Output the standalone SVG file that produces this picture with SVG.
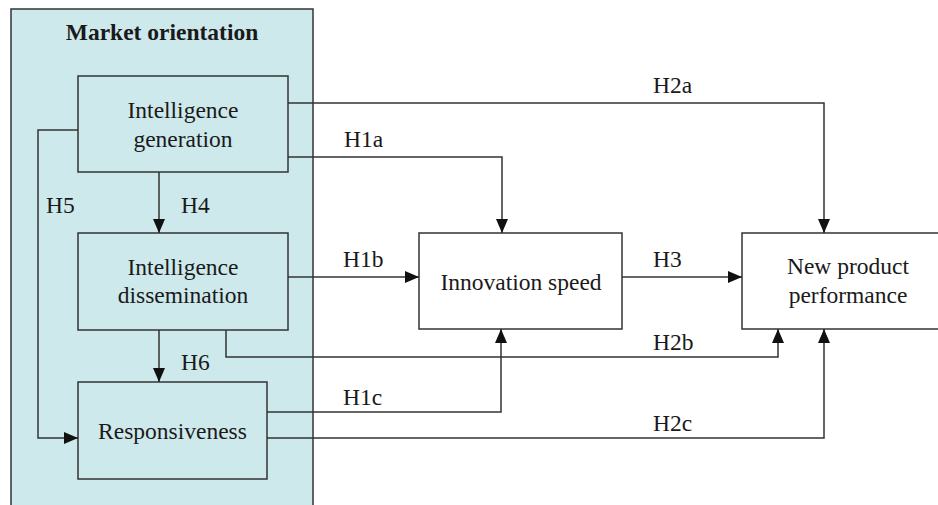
<svg xmlns="http://www.w3.org/2000/svg" width="938" height="505" viewBox="0 0 938 505">
<defs>
<style>
.box{fill:#cde9ec;stroke:#333;stroke-width:1.5}
.wbox{fill:#fff;stroke:#333;stroke-width:1.5}
.t{font-size:23.5px;fill:#1a1a1a;text-anchor:middle}
.lb{font-size:23.5px;fill:#1a1a1a}
.c{fill:none;stroke:#333;stroke-width:1.5}
</style>
<marker id="ah" viewBox="0 0 14 12" refX="14" refY="6" markerWidth="14" markerHeight="12" markerUnits="userSpaceOnUse" orient="auto">
<path d="M0,0 L14,6 L0,12 Z" fill="#111"/>
</marker>
</defs>
<rect width="938" height="505" fill="#fff"/>
<g font-family="'Liberation Serif', Tinos, 'Noto Serif', 'DejaVu Serif', serif">
<g id="market-orientation">
<rect x="11" y="9" width="302" height="510" class="box"/>
<text x="162" y="40" class="t" font-weight="bold">Market orientation</text>
</g>
<g id="intelligence-generation">
<rect x="78" y="76" width="210" height="96" class="box"/>
<text x="183" y="118" class="t">Intelligence</text>
<text x="183" y="147" class="t">generation</text>
</g>
<g id="intelligence-dissemination">
<rect x="78" y="233" width="210" height="97" class="box"/>
<text x="183" y="275" class="t">Intelligence</text>
<text x="183" y="303" class="t">dissemination</text>
</g>
<g id="responsiveness">
<rect x="78" y="382" width="189" height="97" class="box"/>
<text x="172.5" y="439" class="t">Responsiveness</text>
</g>
<g id="innovation-speed">
<rect x="419" y="233" width="203" height="96" class="wbox"/>
<text x="521" y="290" class="t">Innovation speed</text>
</g>
<g id="new-product-performance">
<rect x="742" y="233" width="212" height="96" class="wbox"/>
<text x="848" y="274" class="t">New product</text>
<text x="848" y="303" class="t">performance</text>
</g>
<g id="connectors">
<path d="M288,103 H824 V233" class="c" marker-end="url(#ah)"/>
<path d="M288,157 H502 V233" class="c" marker-end="url(#ah)"/>
<path d="M159,172 V233" class="c" marker-end="url(#ah)"/>
<path d="M78,130 H38 V438 H78" class="c" marker-end="url(#ah)"/>
<path d="M159,330 V382" class="c" marker-end="url(#ah)"/>
<path d="M288,277 H419" class="c" marker-end="url(#ah)"/>
<path d="M622,277 H742" class="c" marker-end="url(#ah)"/>
<path d="M226,330 V357 H778 V329" class="c" marker-end="url(#ah)"/>
<path d="M267,412 H501 V329" class="c" marker-end="url(#ah)"/>
<path d="M267,438 H824 V329" class="c" marker-end="url(#ah)"/>
</g>
<g id="labels">
<text x="653" y="93" class="lb">H2a</text>
<text x="344" y="147" class="lb">H1a</text>
<text x="46" y="213" class="lb">H5</text>
<text x="181" y="213" class="lb">H4</text>
<text x="343" y="267" class="lb">H1b</text>
<text x="653" y="267" class="lb">H3</text>
<text x="653" y="350" class="lb">H2b</text>
<text x="181" y="370" class="lb">H6</text>
<text x="343" y="405" class="lb">H1c</text>
<text x="653" y="431" class="lb">H2c</text>
</g>
</g>
</svg>
